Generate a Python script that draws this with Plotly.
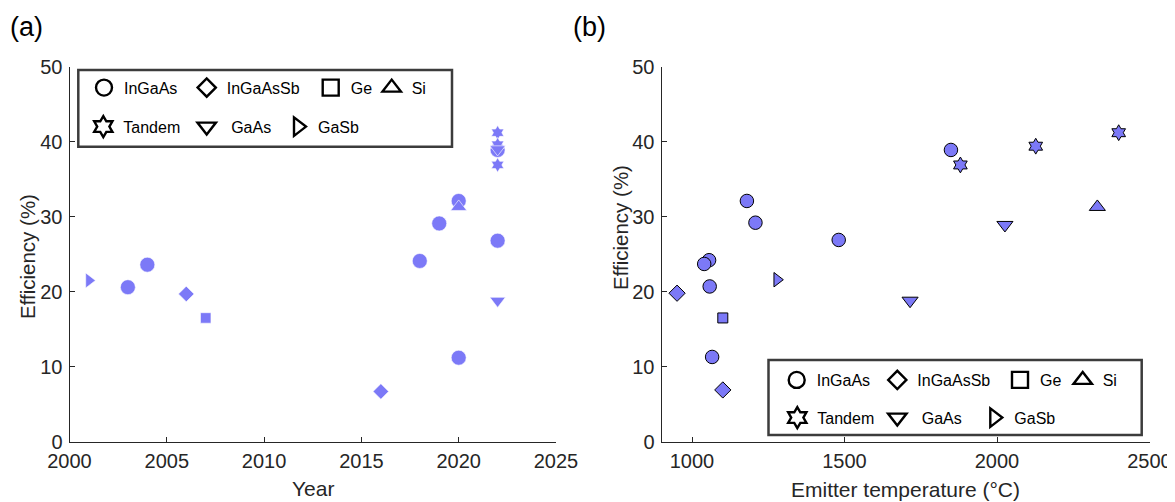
import plotly.graph_objects as go

# page body has an 8px default margin; the figure is sized so that it fills the window exactly
OFF = 8
W, H = 1175 - OFF, 502 - OFF

# ---------------- data: panel (a) efficiency vs year ----------------
year_ingaas = [2003, 2004, 2018, 2019, 2020, 2020, 2022, 2022]
eff_ingaas_a = [20.6, 23.6, 24.1, 29.1, 32.1, 11.2, 26.8, 38.9]
year_ingaassb = [2006, 2016]
eff_ingaassb_a = [19.7, 6.7]
year_ge = [2007]
eff_ge_a = [16.5]
year_si = [2020]
eff_si_a = [31.3]
year_tandem = [2022, 2022, 2022]
eff_tandem_a = [41.2, 39.6, 36.9]
year_gaas = [2022, 2022]
eff_gaas_a = [18.8, 39.0]
year_gasb = [2001]
eff_gasb_a = [21.5]

# ---------------- data: panel (b) efficiency vs emitter temperature ----------------
temp_ingaas = [1056, 1040, 1058, 1066, 1180, 1208, 1481, 1849]
eff_ingaas_b = [24.2, 23.7, 20.7, 11.3, 32.1, 29.2, 26.9, 38.9]
temp_ingaassb = [951, 1101]
eff_ingaassb_b = [19.8, 6.9]
temp_ge = [1101]
eff_ge_b = [16.5]
temp_si = [2329]
eff_si_b = [31.3]
temp_tandem = [1880, 2127, 2399]
eff_tandem_b = [36.9, 39.4, 41.2]
temp_gaas = [1715, 2026]
eff_gaas_b = [18.8, 28.9]
temp_gasb = [1279]
eff_gasb_b = [21.6]

materials = ["InGaAs", "InGaAsSb", "Ge", "Si", "Tandem", "GaAs", "GaSb"]
year_ticks = [2000, 2005, 2010, 2015, 2020, 2025]
temp_ticks = [1000, 1500, 2000, 2500]
eff_ticks = [0, 10, 20, 30, 40, 50]

# ---------------- styles ----------------
FILL = "#7c79f7"
AXC = "#262626"
FONT = "Liberation Sans, Arial, Helvetica, sans-serif"
symbols = {"InGaAs": "circle", "InGaAsSb": "diamond", "Ge": "square", "Si": "triangle-up",
           "Tandem": "hexagram", "GaAs": "triangle-down", "GaSb": "triangle-right"}
size_a = {"InGaAs": 15, "InGaAsSb": 12, "Ge": 10.5, "Si": 14, "Tandem": 11, "GaAs": 13.5, "GaSb": 13}
size_b = {"InGaAs": 13.5, "InGaAsSb": 12.5, "Ge": 10, "Si": 14, "Tandem": 12, "GaAs": 14, "GaSb": 12.5}
leg_size = {"InGaAs": 16, "InGaAsSb": 14, "Ge": 16, "Si": 16, "Tandem": 16, "GaAs": 16, "GaSb": 16}

data_a = {
    "InGaAs": (year_ingaas, eff_ingaas_a), "InGaAsSb": (year_ingaassb, eff_ingaassb_a),
    "Ge": (year_ge, eff_ge_a), "Si": (year_si, eff_si_a), "Tandem": (year_tandem, eff_tandem_a),
    "GaAs": (year_gaas, eff_gaas_a), "GaSb": (year_gasb, eff_gasb_a),
}
data_b = {
    "InGaAs": (temp_ingaas, eff_ingaas_b), "InGaAsSb": (temp_ingaassb, eff_ingaassb_b),
    "Ge": (temp_ge, eff_ge_b), "Si": (temp_si, eff_si_b), "Tandem": (temp_tandem, eff_tandem_b),
    "GaAs": (temp_gaas, eff_gaas_b), "GaSb": (temp_gasb, eff_gasb_b),
}

def px_x(p):
    # window pixel -> paper fraction
    return (p - OFF) / W

def px_y(p):
    return 1 - (p - OFF) / H

fig = go.Figure()

for m in materials:
    x, y = data_a[m]
    fig.add_trace(go.Scatter(x=x, y=y, mode="markers", xaxis="x", yaxis="y", showlegend=False,
                             marker=dict(symbol=symbols[m], size=size_a[m], color=FILL,
                                         line=dict(color="white", width=0.6)), name=m))
for m in materials:
    x, y = data_b[m]
    fig.add_trace(go.Scatter(x=x, y=y, mode="markers", xaxis="x2", yaxis="y2", showlegend=False,
                             marker=dict(symbol=symbols[m], size=size_b[m], color=FILL,
                                         line=dict(color="black", width=1)), name=m))

# ---------------- legends (one per entry, positioned inside a drawn box) ----------------
# box geometry in window pixels: left, top, width, height
boxes = {"a": (78.3, 70.0, 373.7, 76.7), "b": (768.5, 360.0, 373.2, 75.0)}
# symbol-centre offsets (px) relative to box left, and row offsets relative to box top
entry_pos = {
    "a": {"InGaAs": (25.7, 17.7), "InGaAsSb": (128.4, 17.7), "Ge": (252.4, 17.7), "Si": (313.4, 17.7),
          "Tandem": (25.0, 56.7), "GaAs": (128.4, 56.7), "GaSb": (219.7, 56.7)},
    "b": {"InGaAs": (28.2, 20.0), "InGaAsSb": (128.8, 20.0), "Ge": (251.5, 20.0), "Si": (314.2, 20.0),
          "Tandem": (28.8, 57.7), "GaAs": (128.8, 57.7), "GaSb": (225.8, 57.7)},
}
leg_names = {"GaAs": " GaAs"}

legend_layouts = {}
k = 0
for panel in ["a", "b"]:
    bl, bt, bw, bh = boxes[panel]
    for m in materials:
        k += 1
        lname = "legend" if k == 1 else f"legend{k}"
        dx, dy = entry_pos[panel][m]
        fig.add_trace(go.Scatter(x=[None], y=[None], mode="markers", xaxis="x", yaxis="y",
                                 name=leg_names.get(m, m), legend=lname, showlegend=True,
                                 marker=dict(symbol=symbols[m] + "-open", size=leg_size[m],
                                             color="black", line=dict(color="black", width=2.4))))
        legend_layouts[lname] = dict(
            x=px_x(bl + dx - 20), y=px_y(bt + dy), xanchor="left", yanchor="middle",
            bgcolor="rgba(0,0,0,0)", borderwidth=0, font=dict(size=16, color="black", family=FONT),
            itemsizing="trace", tracegroupgap=0,
        )
    fig.add_shape(type="rect", xref="paper", yref="paper",
                  x0=px_x(bl), x1=px_x(bl + bw), y0=px_y(bt + bh), y1=px_y(bt),
                  line=dict(color="#3c3c3c", width=2.5), fillcolor="rgba(0,0,0,0)", layer="above")

axis_common = dict(showline=True, linecolor=AXC, linewidth=1, ticks="inside", ticklen=5,
                   tickcolor=AXC, tickwidth=1, showgrid=False, zeroline=False,
                   tickfont=dict(size=20, color=AXC, family=FONT), mirror=False)

dom_y = [px_y(441.7), px_y(66.7)]
layout = dict(
    width=W, height=H, margin=dict(l=0, r=0, t=0, b=0, autoexpand=False),
    paper_bgcolor="white", plot_bgcolor="white",
    font=dict(family=FONT, color=AXC),
    xaxis=dict(domain=[px_x(69.5), px_x(556)], range=[2000, 2025], tickvals=year_ticks,
               anchor="y", ticklabelstandoff=1, **axis_common),
    yaxis=dict(domain=dom_y, range=[0, 50], tickvals=eff_ticks, anchor="x",
               ticklabelstandoff=2, **axis_common),
    xaxis2=dict(domain=[px_x(661.5), px_x(1149.5)], range=[900, 2500], tickvals=temp_ticks,
                anchor="y2", ticklabelstandoff=1, **axis_common),
    yaxis2=dict(domain=dom_y, range=[0, 50], tickvals=eff_ticks, anchor="x2",
                ticklabelstandoff=2, **axis_common),
    annotations=[
        dict(text="(a)", x=px_x(26), y=px_y(27), xref="paper", yref="paper", showarrow=False,
             font=dict(size=27, color="black", family=FONT), xanchor="center", yanchor="middle"),
        dict(text="(b)", x=px_x(589.5), y=px_y(27), xref="paper", yref="paper", showarrow=False,
             font=dict(size=27, color="black", family=FONT), xanchor="center", yanchor="middle"),
        dict(text="Efficiency (%)", x=px_x(27), y=px_y(257), xref="paper", yref="paper",
             showarrow=False, textangle=-90, font=dict(size=20.5, color=AXC, family=FONT),
             xanchor="center", yanchor="middle"),
        dict(text="Efficiency (%)", x=px_x(620), y=px_y(228), xref="paper", yref="paper",
             showarrow=False, textangle=-90, font=dict(size=20.5, color=AXC, family=FONT),
             xanchor="center", yanchor="middle"),
        dict(text="Year", x=px_x(313), y=px_y(488), xref="paper", yref="paper", showarrow=False,
             font=dict(size=21, color=AXC, family=FONT), xanchor="center", yanchor="middle"),
        dict(text="Emitter temperature (°C)", x=px_x(905.5), y=px_y(489), xref="paper", yref="paper",
             showarrow=False, font=dict(size=21, color=AXC, family=FONT),
             xanchor="center", yanchor="middle"),
    ],
)
layout.update(legend_layouts)
fig.update_layout(**layout)

fig.write_html("out.html")
